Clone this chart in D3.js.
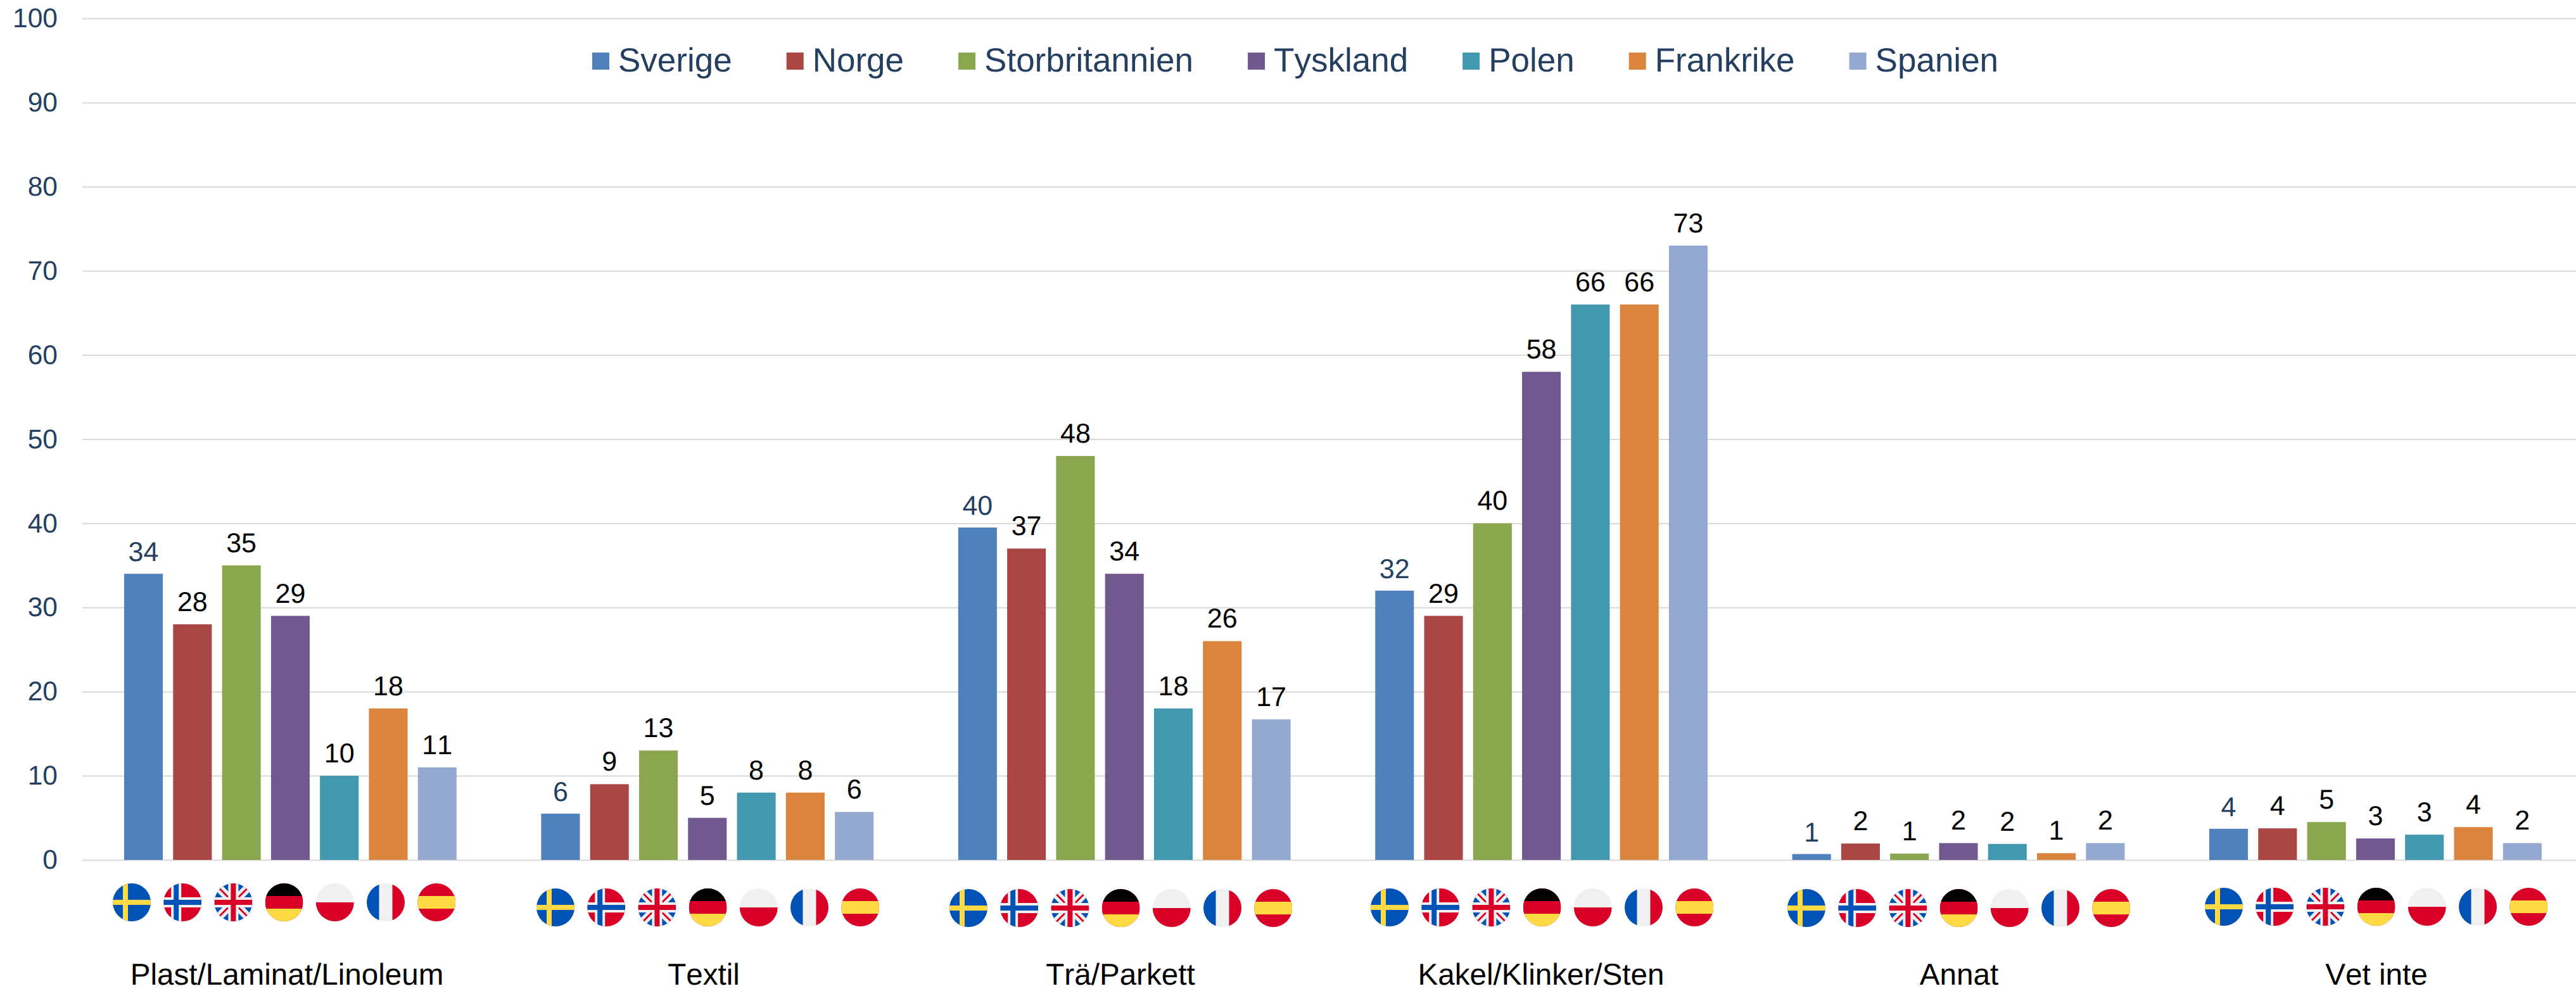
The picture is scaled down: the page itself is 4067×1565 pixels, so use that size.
<!DOCTYPE html>
<html>
<head>
<meta charset="utf-8">
<style>
  html, body { margin: 0; background: #fff; }
  svg { display: block; }
  text { font-family: "Liberation Sans", Arial, sans-serif; font-kerning: none; text-rendering: geometricPrecision; }
</style>
</head>
<body>
<svg width="4067" height="1565"></svg>
<script src="https://cdn.jsdelivr.net/npm/d3@7"></script>
<script>
const categories = ['Plast/Laminat/Linoleum', 'Textil', 'Trä/Parkett', 'Kakel/Klinker/Sten', 'Annat', 'Vet inte']
const countries = ['Sverige', 'Norge', 'Storbritannien', 'Tyskland', 'Polen', 'Frankrike', 'Spanien']

const sverige = [34, 5.5, 39.5, 32, 0.7, 3.7]
const norge = [28, 9, 37, 29, 1.95, 3.75]
const storbritannien = [35, 13, 48, 40, 0.75, 4.5]
const tyskland = [29, 5, 34, 58, 2, 2.55]
const polen = [10, 8, 18, 66, 1.9, 3]
const frankrike = [18, 8, 26, 66, 0.8, 3.9]
const spanien = [11, 5.7, 16.7, 73, 2, 2]
const seriesValues = [sverige, norge, storbritannien, tyskland, polen, frankrike, spanien]

const yTicks = [0, 10, 20, 30, 40, 50, 60, 70, 80, 90, 100]

const colors = ['#4f81bd', '#aa4644', '#8aa64e', '#71588f', '#4198af', '#db843d', '#93a9cf']
const navy = '#243f60'

const svg = d3.select('svg')
const width = +svg.attr('width')

const xScale = d3.scaleBand()
  .domain(categories)
  .range([129.2, 129.2 + 658.4 * categories.length])

const innerScale = d3.scaleBand()
  .domain(countries)
  .range([66.8, 591.6])
  .paddingInner(0.21)

const yScale = d3.scaleLinear()
  .domain([0, 100])
  .range([1358, 29])

const yAxis = d3.axisLeft(yScale)
  .tickValues(yTicks)
  .tickSize(-(width - 130))
  .tickPadding(39)

const yAxisG = svg.append('g')
  .attr('transform', 'translate(130, 0)')
  .call(yAxis)
yAxisG.select('.domain').remove()
yAxisG.selectAll('.tick line')
  .attr('stroke', '#d9d9d9')
  .attr('stroke-width', 2)
yAxisG.selectAll('.tick text')
  .attr('fill', navy)
  .style('font-size', '42.5px')
  .style('font-family', '"Liberation Sans", Arial, sans-serif')

// legend, laid out from the measured text
const legend = svg.append('g')
let legendX = 935
countries.forEach((name, i) => {
  legend.append('rect')
    .attr('x', legendX).attr('y', 83)
    .attr('width', 27).attr('height', 27)
    .attr('fill', colors[i])
  const label = legend.append('text')
    .attr('x', legendX + 41).attr('y', 113)
    .attr('fill', navy)
    .style('font-size', '53px')
    .text(name)
  legendX += 41 + label.node().getComputedTextLength() + 86
})

const table = categories.flatMap((category, c) =>
  countries.map((country, s) => ({ category, country, s, value: seriesValues[s][c] })))

const groups = svg.selectAll('.group')
  .data(categories)
  .enter()
  .append('g')
  .attr('class', 'group')
  .attr('transform', d => `translate(${xScale(d)}, 0)`)

// the 28 label in the first group has a white box hiding the 30 gridline
groups.filter(d => d === categories[0])
  .selectAll('.label-box')
  .data(table.filter(r => r.category === categories[0] && r.country === 'Norge'))
  .enter()
  .append('rect')
  .attr('class', 'label-box')
  .attr('x', d => innerScale(d.country) + innerScale.bandwidth() / 2 - 47)
  .attr('y', d => yScale(d.value) - 55)
  .attr('width', 94)
  .attr('height', 40)
  .attr('fill', '#fff')

groups.selectAll('.bar')
  .data(d => table.filter(r => r.category === d))
  .enter()
  .append('rect')
  .attr('class', 'bar')
  .attr('x', d => innerScale(d.country))
  .attr('y', d => yScale(d.value))
  .attr('width', innerScale.bandwidth())
  .attr('height', d => yScale(0) - yScale(d.value))
  .attr('fill', d => colors[d.s])

groups.selectAll('.value')
  .data(d => table.filter(r => r.category === d))
  .enter()
  .append('text')
  .attr('class', 'value')
  .attr('x', d => innerScale(d.country) + innerScale.bandwidth() / 2)
  .attr('y', d => yScale(d.value) - (d.s === 0 ? 20 : 21))
  .attr('text-anchor', 'middle')
  .attr('fill', d => d.s === 0 ? navy : '#000')
  .style('font-size', '43px')
  .text(d => Math.round(d.value))

// category names were placed by hand in the original, so they don't all sit on the band centre
const labelX = [453, 1111, 1769, 2433, 3093, 3752]
svg.selectAll('.cat')
  .data(categories)
  .enter()
  .append('text')
  .attr('class', 'cat')
  .attr('x', (d, i) => labelX[i])
  .attr('y', 1555)
  .attr('text-anchor', 'middle')
  .attr('fill', '#000')
  .style('font-size', '47.6px')
  .text(d => d)

// flags
const flagStartX = [208, 877, 1529, 2194, 2852, 3511]
const flagY = [1425, 1433, 1434, 1433, 1434, 1432]
const flagStep = 80.2
const R = 30

const defs = svg.append('defs')
defs.append('clipPath').attr('id', 'flag-clip')
  .append('circle').attr('r', R)

const BLUE = '#0052b4', RED = '#d80027', YELLOW = '#ffda44', WHITE = '#f0f0f0'

const rect = (g, x, y, w, h, fill) => g.append('rect')
  .attr('x', x).attr('y', y).attr('width', w).attr('height', h).attr('fill', fill)

const flagDrawers = {
  Sverige: g => {
    rect(g, -R, -R, 2 * R, 2 * R, BLUE)
    rect(g, -R, -4, 2 * R, 8, YELLOW)
    rect(g, -14, -R, 8, 2 * R, YELLOW)
  },
  Norge: g => {
    rect(g, -R, -R, 2 * R, 2 * R, RED)
    rect(g, -R, -8, 2 * R, 16, WHITE)
    rect(g, -18, -R, 16, 2 * R, WHITE)
    rect(g, -R, -4, 2 * R, 8, BLUE)
    rect(g, -14, -R, 8, 2 * R, BLUE)
  },
  Storbritannien: g => {
    rect(g, -R, -R, 2 * R, 2 * R, BLUE)
    g.append('path').attr('d', `M${-R},${-R}L${R},${R}M${-R},${R}L${R},${-R}`)
      .attr('stroke', WHITE).attr('stroke-width', 13)
    g.append('path').attr('d', `M-23,-23L-8,-8M8,8L23,23M-23,23L-8,8M8,-8L23,-23`)
      .attr('stroke', RED).attr('stroke-width', 3)
    rect(g, -R, -8, 2 * R, 16, WHITE)
    rect(g, -8, -R, 16, 2 * R, WHITE)
    rect(g, -R, -4, 2 * R, 8, RED)
    rect(g, -4, -R, 8, 2 * R, RED)
  },
  Tyskland: g => {
    rect(g, -R, -R, 2 * R, 2 * R, RED)
    rect(g, -R, -R, 2 * R, 20, '#000')
    rect(g, -R, 10, 2 * R, 20, YELLOW)
  },
  Polen: g => {
    rect(g, -R, -R, 2 * R, R, WHITE)
    rect(g, -R, 0, 2 * R, R, RED)
  },
  Frankrike: g => {
    rect(g, -R, -R, 2 * R, 2 * R, WHITE)
    rect(g, -R, -R, 19.5, 2 * R, BLUE)
    rect(g, 10.5, -R, 19.5, 2 * R, RED)
  },
  Spanien: g => {
    rect(g, -R, -R, 2 * R, 2 * R, RED)
    rect(g, -R, -10, 2 * R, 20, YELLOW)
  }
}

categories.forEach((category, c) => {
  countries.forEach((country, s) => {
    const g = svg.append('g')
      .attr('transform', `translate(${flagStartX[c] + s * flagStep}, ${flagY[c]})`)
      .attr('clip-path', 'url(#flag-clip)')
    flagDrawers[country](g)
  })
})
</script>
</body>
</html>
